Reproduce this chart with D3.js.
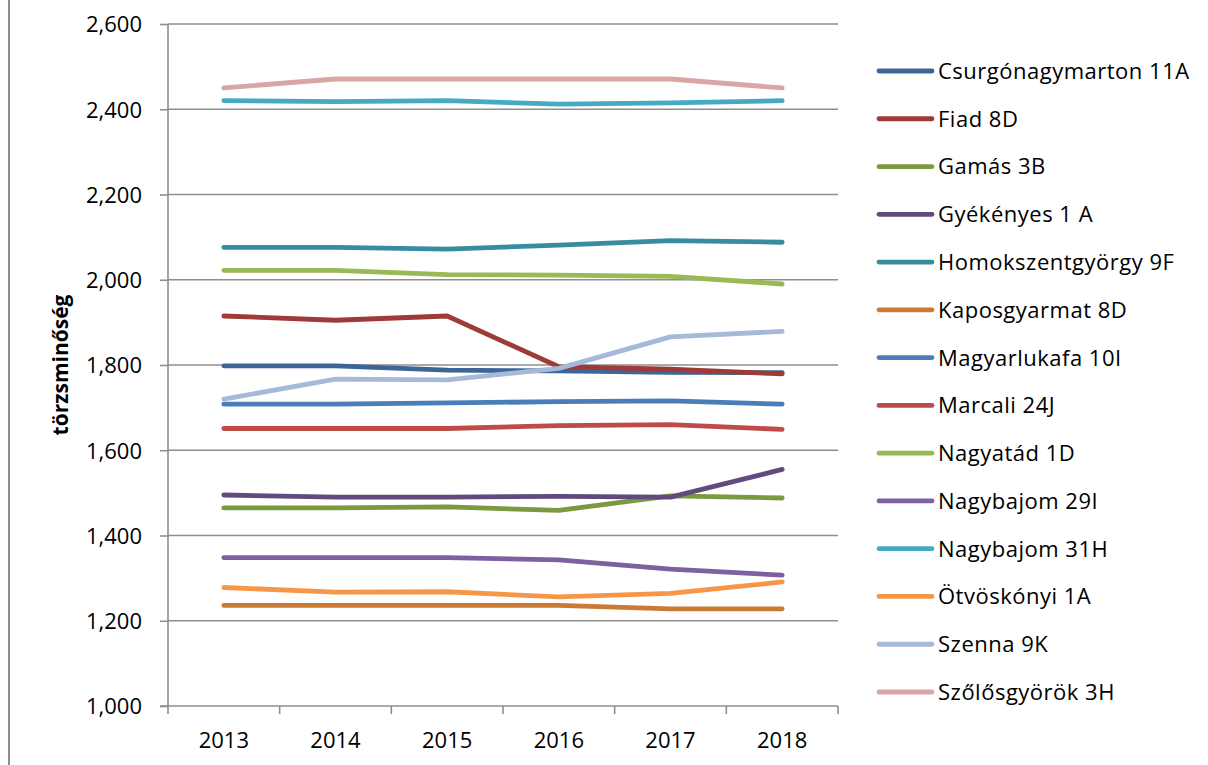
<!DOCTYPE html>
<html>
<head>
<meta charset="utf-8">
<script src="https://cdn.jsdelivr.net/npm/d3@7"></script>
<style>
html,body{margin:0;padding:0;background:#fff;}
svg{display:block;}
text{font-family:"Open Sans",sans-serif;fill:#000;}
</style>
</head>
<body>
<svg id="chart" width="1208" height="765"></svg>
<script>
const years = ["2013","2014","2015","2016","2017","2018"];
const seriesNames = ["Csurgónagymarton 11A","Fiad 8D","Gamás 3B","Gyékényes 1 A","Homokszentgyörgy 9F","Kaposgyarmat 8D","Magyarlukafa 10I","Marcali 24J","Nagyatád 1D","Nagybajom 29I","Nagybajom 31H","Ötvöskónyi 1A","Szenna 9K","Szőlősgyörök 3H"];
const csurgo = [1798,1798,1788,1786,1783,1782];
const fiad = [1915,1905,1915,1796,1790,1779];
const gamas = [1465,1465,1467,1459,1493,1488];
const gyekenyes = [1495,1490,1490,1492,1490,1555];
const homok = [2076,2076,2072,2081,2092,2088];
const kapos = [1236,1236,1236,1236,1228,1228];
const magyarluk = [1708,1708,1711,1714,1716,1708];
const marcali = [1651,1651,1651,1658,1660,1649];
const nagyatad = [2022,2022,2012,2011,2008,1990];
const nagybajom29 = [1348,1348,1348,1343,1321,1307];
const nagybajom31 = [2420,2418,2420,2412,2415,2420];
const otvos = [1278,1267,1268,1256,1264,1291];
const szenna = [1720,1767,1765,1792,1866,1879];
const szolos = [2450,2471,2471,2471,2471,2450];
const seriesValues = [csurgo,fiad,gamas,gyekenyes,homok,kapos,magyarluk,marcali,nagyatad,nagybajom29,nagybajom31,otvos,szenna,szolos];
const colors = ["#3C6598","#9E3B39","#7A9A3F","#614B7E","#378C9F","#CC7A33","#4A7EBB","#BE4B48","#98B954","#7D60A0","#46AAC5","#F79646","#A7B9D8","#D9A6A5"];
const yTicks = [1000,1200,1400,1600,1800,2000,2200,2400,2600];
const yTitle = "törzsminőség";

(function(){
const svg = d3.select("#chart");
const pL = 168, pR = 838, pT = 24, pB = 706;
const x = d3.scaleBand().domain(years).range([pL, pR]);
const y = d3.scaleLinear().domain([1000, 2600]).range([pB, pT]);
const gridColor = "#8e8e8e";

svg.append("line").attr("x1",9).attr("x2",9).attr("y1",0).attr("y2",765)
  .attr("stroke",gridColor).attr("stroke-width",2);

svg.append("g").selectAll("line").data(yTicks.filter(d=>d>1000)).join("line")
  .attr("x1",pL).attr("x2",pR)
  .attr("y1",d=>y(d)).attr("y2",d=>y(d))
  .attr("stroke",gridColor).attr("stroke-width",1.6);

const yAxis = d3.axisLeft(y).tickValues(yTicks).tickFormat(d3.format(",")).tickSize(8).tickPadding(18);
const gy = svg.append("g").attr("transform",`translate(${pL},0)`).call(yAxis);
gy.select(".domain").attr("stroke",gridColor).attr("stroke-width",1.6).attr("d",`M0,${pT}V${pB}`);
gy.selectAll(".tick line").attr("stroke",gridColor).attr("stroke-width",1.6);
gy.selectAll(".tick text").style("font-size","22px").attr("font-family","Open Sans").attr("fill","#000").attr("dy","0.36em");

const gx = svg.append("g").attr("transform",`translate(0,${pB})`)
  .call(d3.axisBottom(x).tickSize(0).tickPadding(26));
gx.select(".domain").attr("stroke",gridColor).attr("stroke-width",1.6).attr("d",`M${pL-8},0H${pR}`);
gx.selectAll(".tick text").style("font-size","22px").attr("font-family","Open Sans").attr("fill","#000");
const bounds = years.map(d=>x(d)).concat([pR]);
svg.append("g").selectAll("line").data(bounds).join("line")
  .attr("x1",d=>d).attr("x2",d=>d).attr("y1",pB).attr("y2",pB+8)
  .attr("stroke",gridColor).attr("stroke-width",1.6);

svg.append("text").attr("transform","translate(60,365) rotate(-90)")
  .attr("text-anchor","middle").attr("dominant-baseline","central")
  .style("font-size","21px").style("font-weight","bold").text(yTitle);

const line = d3.line().x((d,i)=>x(years[i]) + x.bandwidth()/2).y(d=>y(d));
svg.append("g").selectAll("path").data(seriesValues).join("path")
  .attr("d",line).attr("fill","none")
  .attr("stroke",(d,i)=>colors[i]).attr("stroke-width",4.8)
  .attr("stroke-linecap","round").attr("stroke-linejoin","round");

const ly = d3.scalePoint().domain(seriesNames).range([71, 692]);
const lg = svg.append("g").selectAll("g").data(seriesNames).join("g")
  .attr("transform",d=>`translate(0,${ly(d)})`);
lg.append("line").attr("x1",879).attr("x2",932).attr("y1",0).attr("y2",0)
  .attr("stroke",(d,i)=>colors[i]).attr("stroke-width",4.8).attr("stroke-linecap","round");
lg.append("text").attr("x",938).attr("y",0).attr("dy","0.36em")
  .style("font-size","22px").style("letter-spacing","0.5px").text(d=>d);
})();
</script>
</body>
</html>
